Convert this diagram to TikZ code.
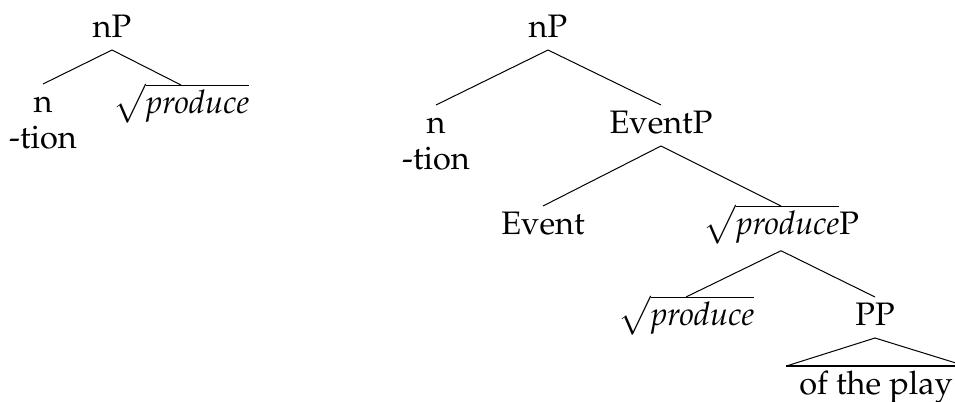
\documentclass[tikz,border=0pt]{standalone}
\usepackage[T1]{fontenc}
\usepackage{mathpazo}
\tikzset{
	cat/.style={inner sep=0pt, anchor=base, text height=11pt, text depth=5pt, font=\fontsize{13}{15.6}\selectfont},
	roof/.style={cat, inner xsep=5pt}
}
\begin{document}
\begin{tikzpicture}[x=0.4pt,y=-0.4pt]
	\useasboundingbox (0,0) rectangle (955,401);
	% nominalised root
	\node[cat] (np1) at (112,37) {nP};
	\node[cat] (n1) at (43,112) {n};
	\node[cat] (tion1) at (43,148) {-tion};
	\node[cat] (root1) at (181,113) {$\sqrt{\mathit{produce}}$};
	\draw (np1.south) -- (n1.north);
	\draw (np1.south) -- (root1.north);
	% nominalised event
	\node[cat] (np2) at (548,37) {nP};
	\node[cat] (n2) at (436,133) {n};
	\node[cat] (tion2) at (436,169) {-tion};
	\node[cat] (eventp) at (661,133) {EventP};
	\node[cat] (event) at (543,234) {Event};
	\node[cat, text depth=6.5pt] (rootp) at (781,234) {$\sqrt{\mathit{produce}}$P};
	\node[cat] (root2) at (686,325) {$\sqrt{\mathit{produce}}$};
	\node[cat] (pp) at (875,325) {PP};
	\node[roof] (play) at (876,394) {of the play};
	\draw (np2.south) -- (n2.north);
	\draw (np2.south) -- (eventp.north);
	\draw (eventp.south) -- (event.north);
	\draw (eventp.south) -- (rootp.north);
	\draw (rootp.south) -- (root2.north);
	\draw (rootp.south) -- (pp.north);
	\draw (play.north west) -- (pp.south) -- (play.north east);
	\draw[line width=0.8pt] (play.north west) -- (play.north east);
\end{tikzpicture}
\end{document}
